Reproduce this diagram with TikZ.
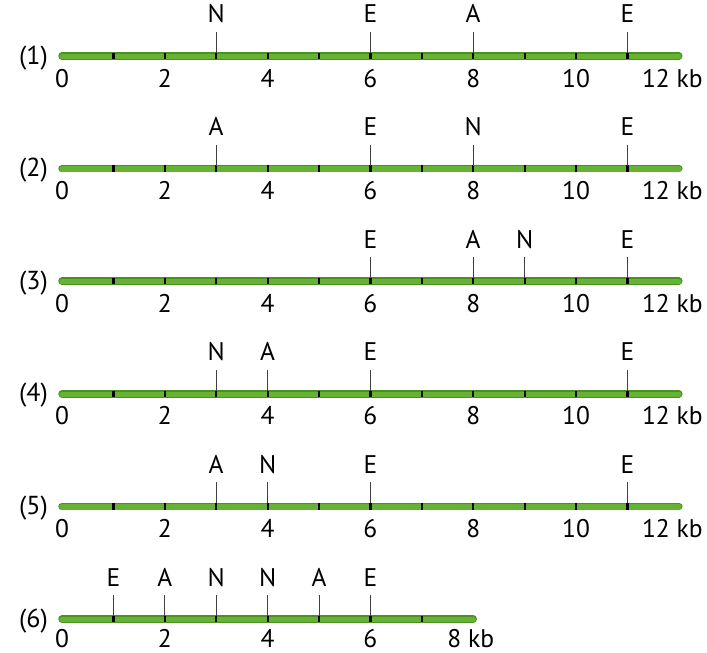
\documentclass[tikz,border=0pt]{standalone}
\usepackage{fontspec}
\setmainfont{PT Sans}
\usetikzlibrary{positioning}
\definecolor{bargreen}{RGB}{102,178,50}
\definecolor{baredge}{RGB}{74,144,34}
\tikzset{
    dnaedge/.style={line width=7.5pt, line cap=round, draw=baredge},
    dna/.style={line width=5.5pt, line cap=round, draw=bargreen},
    kbtick/.style={line width=2.2pt, draw=black},
    site/.style={line width=0.7pt, draw=black!75},
    enzyme/.style={font=\fontsize{25.5}{28}\selectfont, inner sep=0pt, anchor=base},
    kbnum/.style={font=\fontsize{25.5}{28}\selectfont, inner sep=0pt, anchor=base},
    rowlabel/.style={font=\fontsize{26}{28}\selectfont, inner sep=0pt, anchor=base east},
}
% x position of a site, in kb
\newcommand{\kbx}[1]{62+51.4*#1}
\begin{document}
\begin{tikzpicture}[x=1pt, y=-1pt]
	\useasboundingbox (0,0) rectangle (707,653);
	% rows (1)-(5): 12 kb
	\foreach \row/\ypos/\sites in {
		1/56/{3/N,6/E,8/A,11/E},
		2/168.6/{3/A,6/E,8/N,11/E},
		3/281.2/{6/E,8/A,9/N,11/E},
		4/393.8/{3/N,4/A,6/E,11/E},
		5/506.4/{3/A,4/N,6/E,11/E}}{
		\begin{scope}[shift={(0,\ypos)}]
			\coordinate (left\row) at (\kbx{0},0);
			\coordinate (right\row) at (\kbx{12},0);
			\draw[dnaedge] (left\row) -- (right\row);
			\draw[dna] ([yshift=-0.5pt]left\row) -- ([yshift=-0.5pt]right\row);
			\foreach \k in {1,...,11}
				\draw[kbtick] (\kbx{\k},-3.2) -- (\kbx{\k},3.2);
			\foreach \p/\e in \sites{
				\draw[site] (\kbx{\p},-24) -- (\kbx{\p},-3);
				\node[enzyme] (site\row-\p) at (\kbx{\p},-33) {\e};
			}
			\foreach \k in {0,2,...,10}
				\node[kbnum] (num\row-\k) at (\kbx{\k},31) {\k};
			\node[kbnum, anchor=base west] (end\row) at (\kbx{12}-37,31) {12 kb};
			\node[rowlabel] (label\row) at (48,8) {(\row)};
		\end{scope}
	}
	% row (6): 8 kb
	\begin{scope}[shift={(0,619)}]
		\coordinate (left6) at (\kbx{0},0);
		\coordinate (right6) at (\kbx{8},0);
		\draw[dnaedge] (left6) -- (right6);
		\draw[dna] ([yshift=-0.5pt]left6) -- ([yshift=-0.5pt]right6);
		\foreach \k in {1,...,7}
			\draw[kbtick] (\kbx{\k},-3.2) -- (\kbx{\k},3.2);
		\foreach \p/\e in {1/E,2/A,3/N,4/N,5/A,6/E}{
			\draw[site] (\kbx{\p},-24) -- (\kbx{\p},-3);
			\node[enzyme] (site6-\p) at (\kbx{\p},-33) {\e};
		}
		\foreach \k in {0,2,4,6}
			\node[kbnum] (num6-\k) at (\kbx{\k},28.5) {\k};
		\node[kbnum, anchor=base west] (end6) at (\kbx{8}-26,28.5) {8 kb};
		\node[rowlabel] (label6) at (48,8) {(6)};
	\end{scope}
\end{tikzpicture}
\end{document}
